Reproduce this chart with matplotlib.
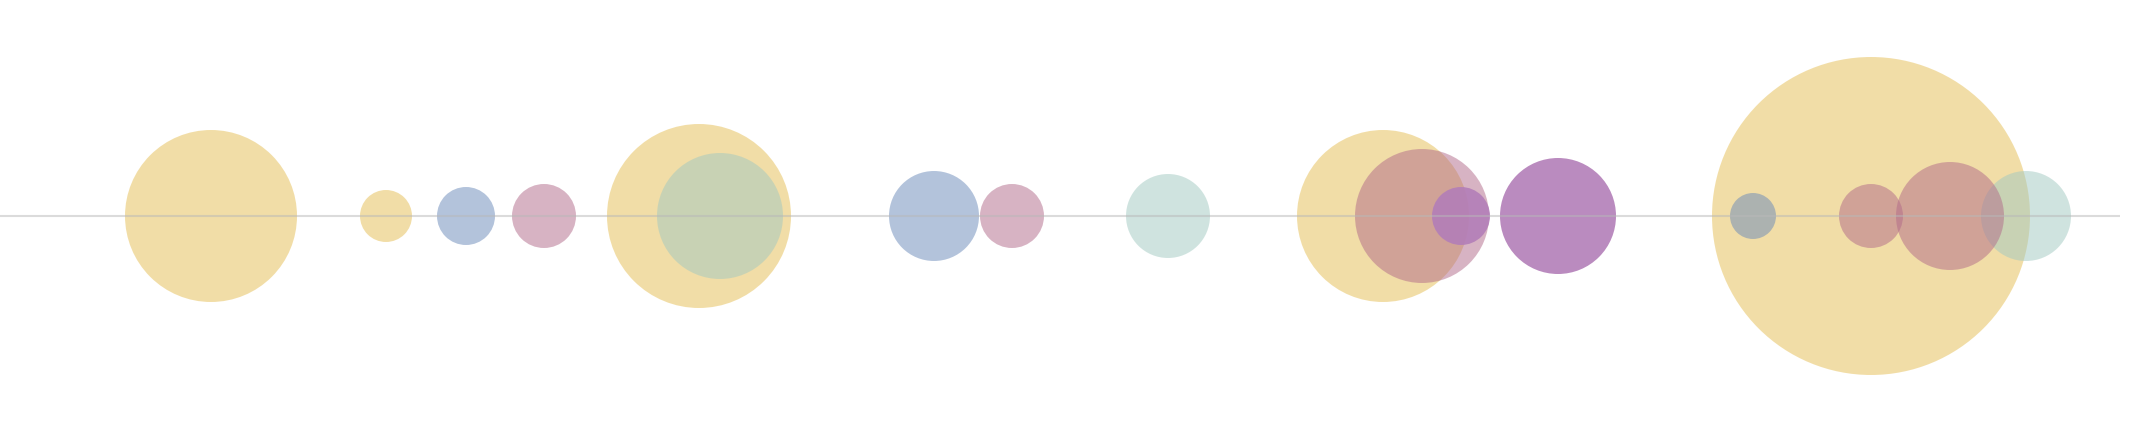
import matplotlib
matplotlib.use("Agg")
import matplotlib.pyplot as plt
from matplotlib.patches import Circle

# Bubble positions (x) and radii per series
yellow_x = [211, 386, 699, 1383, 1871]
yellow_r = [86, 26, 92, 86, 159]
blue_x = [466, 934, 1753]
blue_r = [29, 45, 23]
teal_x = [720, 1168, 2026]
teal_r = [63, 42, 45]
pink_x = [544, 1012, 1422, 1871, 1950]
pink_r = [32, 32, 67, 32, 54]
purple_x = [1461, 1558]
purple_r = [29, 58]

series = [
    (yellow_x, yellow_r, "#e5bd51", 0.5),
    (blue_x, blue_r, "#6989b9", 0.5),
    (teal_x, teal_r, "#a1c9c1", 0.5),
    (pink_x, pink_r, "#b16989", 0.5),
    (purple_x, purple_r, "#b37eb8", 0.9),
]

fig = plt.figure(figsize=(21.3, 4.22), dpi=100)
ax = fig.add_axes([0, 0, 1, 1])
ax.set_xlim(0, 2130)
ax.set_ylim(-206, 216)
ax.set_aspect("equal")
ax.axis("off")

z = 2
for xs, rs, col, a in series:
    for x, r in zip(xs, rs):
        ax.add_patch(Circle((x, 0), r, facecolor=col, edgecolor="none", alpha=a, zorder=z))
    z += 1

ax.plot([0, 2120], [0, 0], color="#b8b8b8", lw=1.5, alpha=0.5, zorder=10, solid_capstyle="butt")

fig.savefig("out.png", dpi=100)
